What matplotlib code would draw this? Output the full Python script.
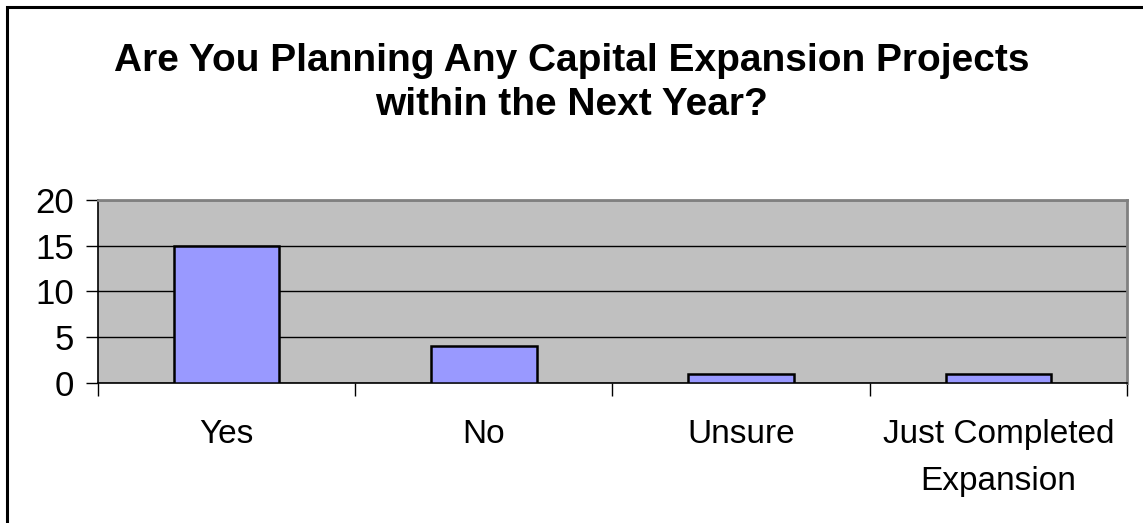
import matplotlib.pyplot as plt
import numpy as np
from matplotlib.patches import Rectangle

plt.rcParams['font.family'] = ['Liberation Sans', 'DejaVu Sans']

# Survey responses
categories = ['Yes', 'No', 'Unsure', 'Just Completed\nExpansion']
counts = [15, 4, 1, 1]
y_ticks = [0, 5, 10, 15, 20]

fig = plt.figure(figsize=(11.43, 5.23), dpi=100)
ax = fig.add_axes([0.0857, 0.2677, 0.9003, 0.3499])

x = np.arange(len(categories))
ax.bar(x, counts, width=0.41, color='#9999FF', edgecolor='black', linewidth=1.8, zorder=3)

ax.set_facecolor('#C0C0C0')
ax.set_xlim(-0.5, len(categories) - 0.5)
ax.set_ylim(0, 20)
ax.set_yticks(y_ticks)
ax.yaxis.grid(True, color='black', linewidth=1.0, zorder=1)
ax.set_axisbelow(True)

# category labels sit between the boundary ticks
ax.set_xticks(x)
ax.set_xticklabels(categories, fontsize=24, linespacing=1.65)
ax.tick_params(axis='x', which='major', length=0, pad=26)
ax.set_xticks(np.arange(len(categories) + 1) - 0.5, minor=True)
ax.tick_params(axis='x', which='minor', length=9, width=1.0, direction='out')
ax.tick_params(axis='y', length=9, width=1.0, direction='out', labelsize=25, pad=8)

for side in ['top', 'right']:
    ax.spines[side].set_color('#808080')
    ax.spines[side].set_linewidth(2)
for side in ['left', 'bottom']:
    ax.spines[side].set_color('black')
    ax.spines[side].set_linewidth(1.2)

fig.text(0.5, 0.841, 'Are You Planning Any Capital Expansion Projects\nwithin the Next Year?',
         ha='center', va='center', fontsize=28, fontweight='bold', linespacing=1.31)

# outer chart frame
fig.patches.append(Rectangle((6.5 / 1143, -0.1), 1.2, (523 - 6.5) / 523 + 0.1,
                             transform=fig.transFigure, fill=False,
                             edgecolor='black', linewidth=2.2))

fig.savefig('out.png', dpi=100)
